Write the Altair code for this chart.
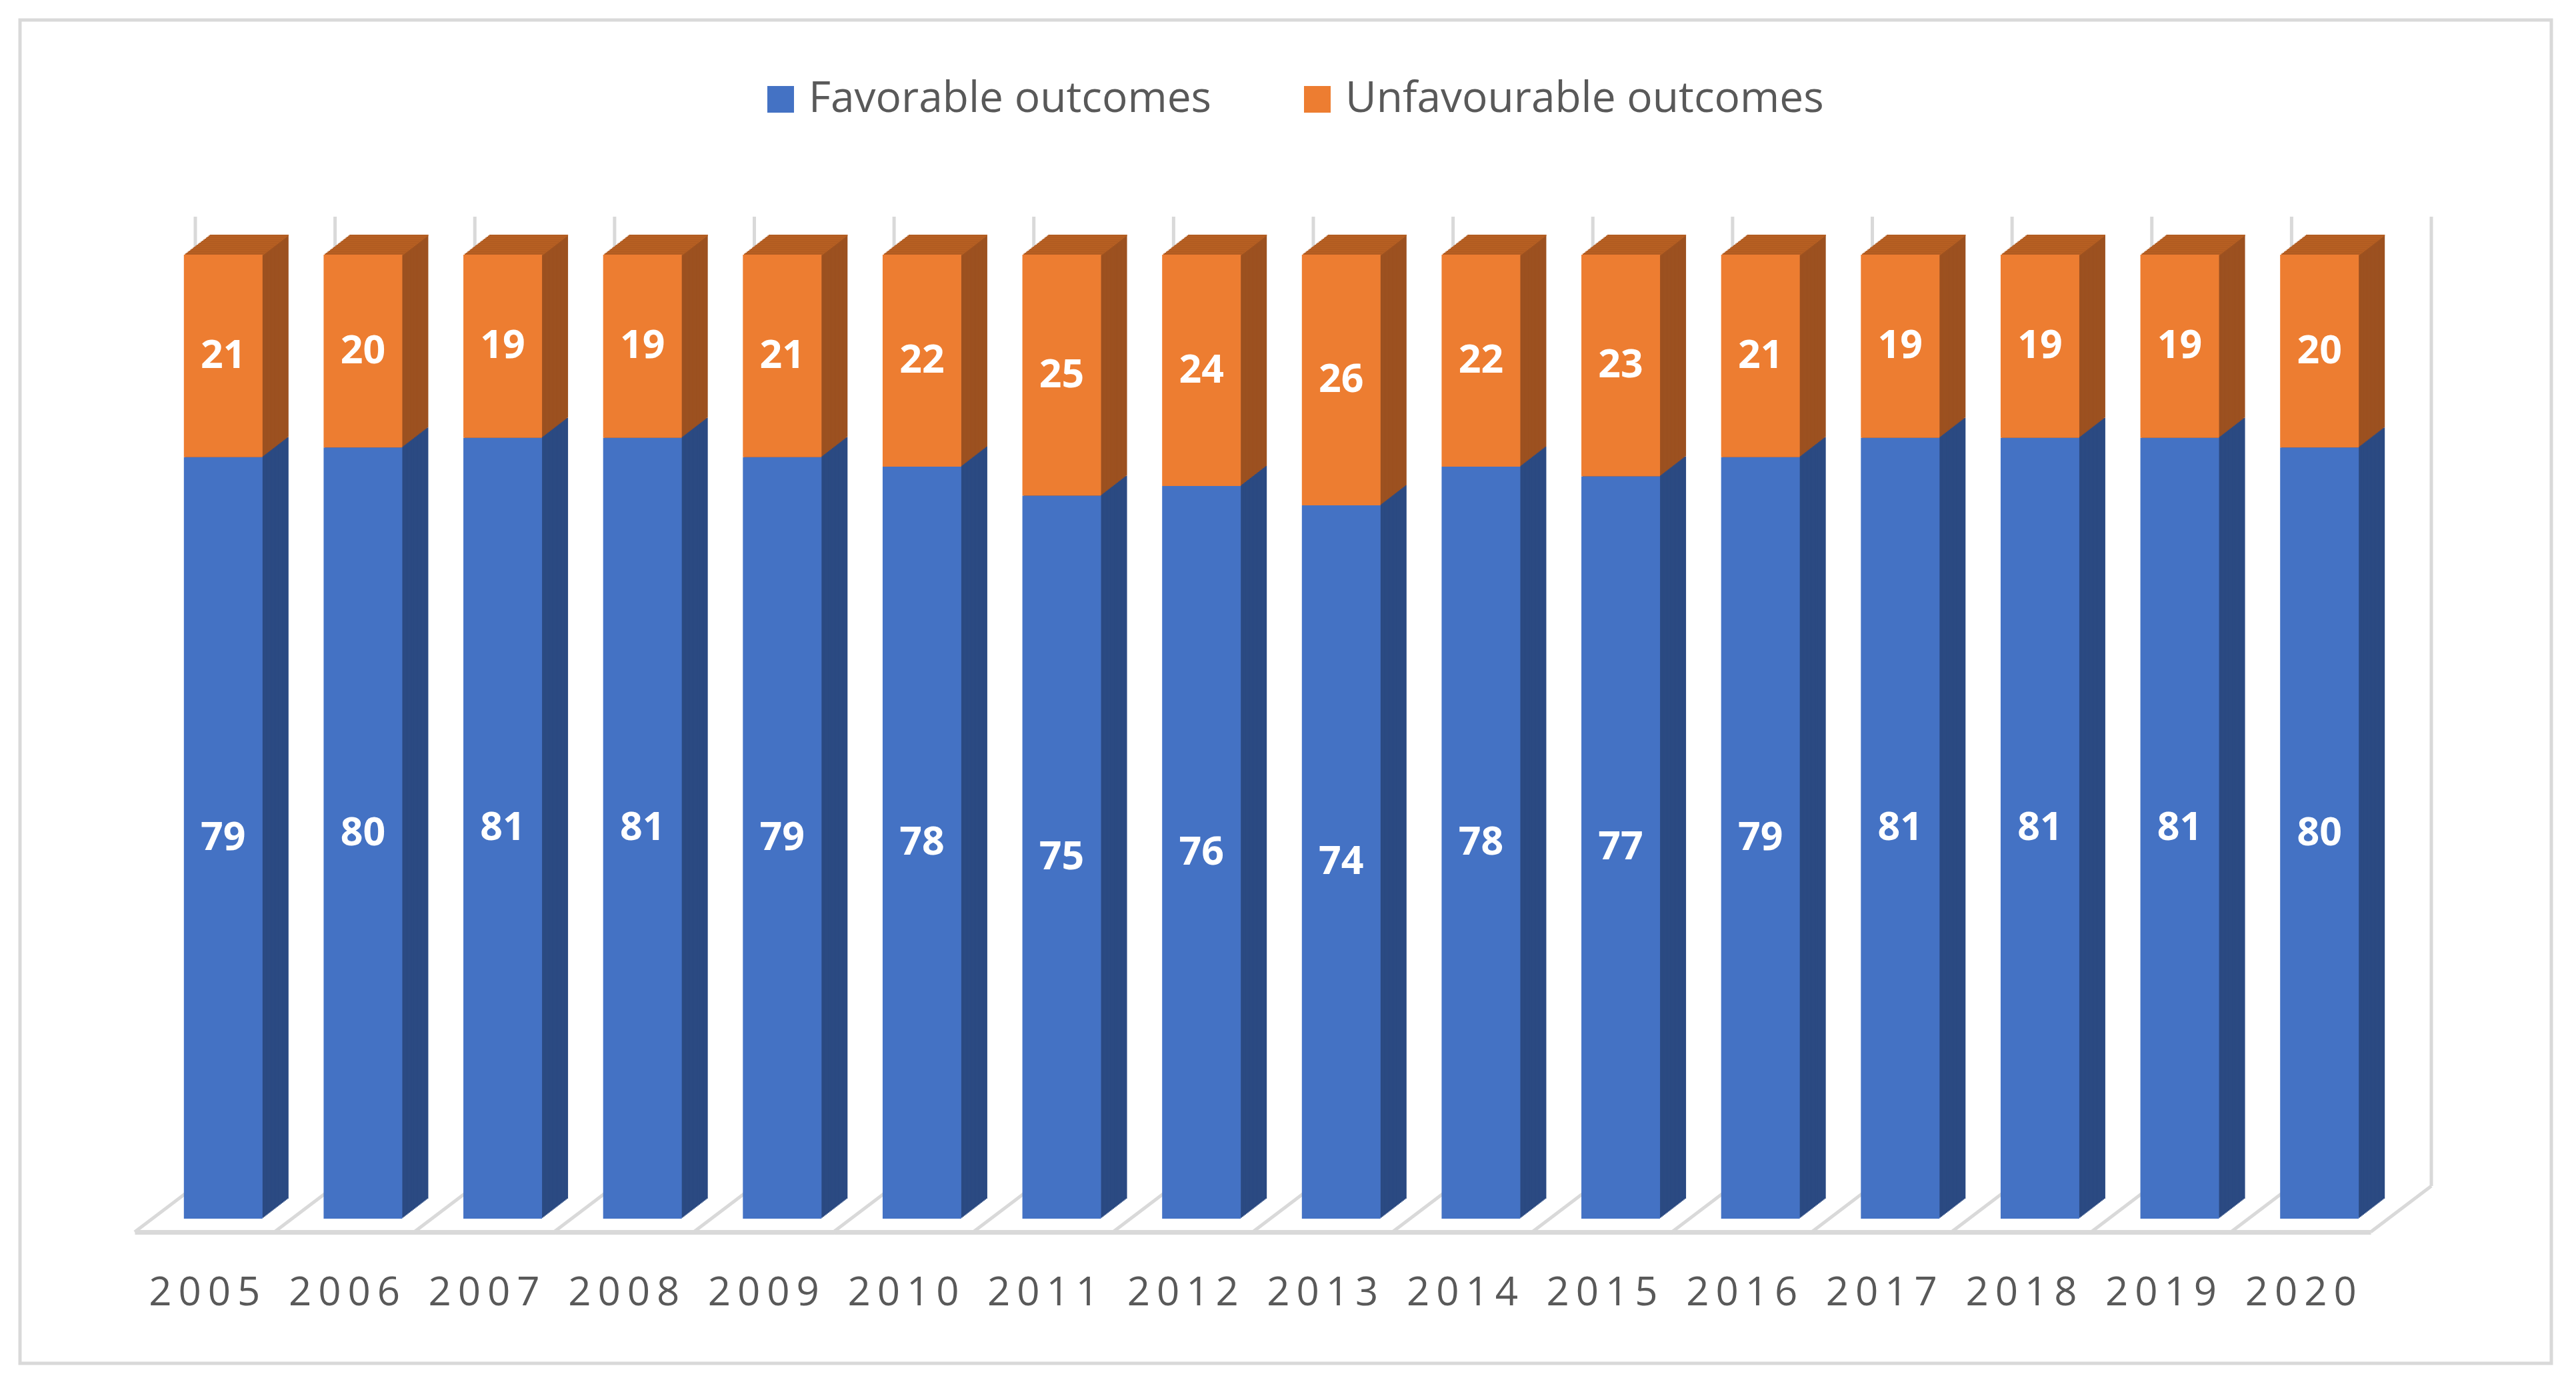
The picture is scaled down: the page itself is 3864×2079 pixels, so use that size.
import altair as alt
import pandas as pd

# ---- data ----
years = ["2005", "2006", "2007", "2008", "2009", "2010", "2011", "2012",
         "2013", "2014", "2015", "2016", "2017", "2018", "2019", "2020"]
favorable = [79, 80, 81, 81, 79, 78, 75, 76, 74, 78, 77, 79, 81, 81, 81, 80]
unfavourable = [21, 20, 19, 19, 21, 22, 25, 24, 26, 22, 23, 21, 19, 19, 19, 20]
series_names = ["Favorable outcomes", "Unfavourable outcomes"]

wide = pd.DataFrame({"year": years, "fav": favorable, "unf": unfavourable})
wide["total"] = wide["fav"] + wide["unf"]
wide["mid_f"] = wide["fav"] / 2
wide["mid_u"] = wide["fav"] + wide["unf"] / 2
end = wide.tail(1)

long = pd.DataFrame({
    "year": years + years,
    "series": [series_names[0]] * len(years) + [series_names[1]] * len(years),
    "value": favorable + unfavourable,
    "ord": [0] * len(years) + [1] * len(years),
})

# ---- style ----
FONT = "Open Sans"
BLUE, ORANGE = "#4472C4", "#ED7D31"
BLUE_SIDE, OR_SIDE, OR_TOP = "#2B4A82", "#9C5120", "#B65F22"
GRID = "#D9D9D9"
LABEL = "#595959"

W, H = 3354, 1446
BAR_W = 118
SHIFT = 28          # front face offset from band centre
DX, DY = 39, 30     # bar depth
FLOOR_DX, FLOOR_DY, FLOOR_FRONT = 91, 69, 20
N = 20              # extrusion layers

xscale = alt.Scale(domain=years, paddingInner=0, paddingOuter=0)
yscale = alt.Scale(domain=[0, 100], nice=False, zero=True)
xaxis = alt.Axis(title=None, ticks=False, tickSize=0, grid=False, domain=True,
                 domainColor=GRID, domainWidth=7, offset=FLOOR_FRONT,
                 labelFont=FONT, labelFontSize=60, labelColor=LABEL,
                 labelAngle=0, labelPadding=91, labelBaseline="middle",
                 labelExpr="join(split(datum.label, ''), '\u2009')")


def X(bp=None):
    if bp is None:
        return alt.X("year:N", scale=xscale, axis=xaxis)
    return alt.X("year:N", scale=xscale, axis=xaxis, bandPosition=bp)


def Yf(field):
    return alt.Y(field, type="quantitative", scale=yscale, axis=None)


def Yd(v):
    return alt.Y(datum=v, type="quantitative", scale=yscale, axis=None)


layers = []

# frame around the chart
frame = alt.Chart(pd.DataFrame({"a": [0]})).mark_rect(
    fillOpacity=0, stroke=GRID, strokeWidth=5
).encode(x=alt.value(-172), x2=alt.value(3625), y=alt.value(-352), y2=alt.value(1663))
layers.append(frame)

# floor diagonals and back wall verticals
for df, bp in [(wide, 0), (end, 1)]:
    layers.append(
        alt.Chart(df).mark_rule(color=GRID, strokeWidth=5, yOffset=FLOOR_FRONT,
                                x2Offset=FLOOR_DX, y2Offset=FLOOR_FRONT - FLOOR_DY)
        .encode(x=X(bp), x2=alt.X2("year:N", bandPosition=bp), y=Yd(0), y2=alt.Y2(datum=0))
    )
    layers.append(
        alt.Chart(df).mark_rule(color=GRID, strokeWidth=5, xOffset=FLOOR_DX,
                                yOffset=FLOOR_FRONT - FLOOR_DY, y2Offset=-57)
        .encode(x=X(bp), y=Yd(0), y2=alt.Y2(datum=100))
    )

# extrusion (side and top faces), back to front
for i in range(N, 0, -1):
    ox = SHIFT + DX * i / N
    oy = -DY * i / N
    layers.append(
        alt.Chart(wide).mark_bar(color=BLUE_SIDE, width=BAR_W, xOffset=ox,
                                 yOffset=oy, y2Offset=oy)
        .encode(x=X(), y=Yf("fav"), y2=alt.Y2(datum=0))
    )
    layers.append(
        alt.Chart(wide).mark_bar(color=OR_SIDE, width=BAR_W, xOffset=ox,
                                 yOffset=oy, y2Offset=oy)
        .encode(x=X(), y=Yf("total"), y2=alt.Y2("fav"))
    )
    layers.append(
        alt.Chart(wide).mark_bar(color=OR_TOP, width=BAR_W, xOffset=ox,
                                 yOffset=oy, y2Offset=oy + DY / N + 0.8)
        .encode(x=X(), y=Yf("total"), y2=alt.Y2("total"))
    )

# front faces
front = alt.Chart(long).mark_bar(width=BAR_W, xOffset=SHIFT).encode(
    x=X(),
    y=alt.Y("value:Q", stack="zero", scale=yscale, axis=None),
    color=alt.Color("series:N",
                    scale=alt.Scale(domain=series_names, range=[BLUE, ORANGE]),
                    legend=alt.Legend(orient="none", legendX=937, legendY=-265,
                                      direction="horizontal", title=None,
                                      symbolType="square", symbolSize=1600,
                                      symbolStrokeWidth=0, labelFont=FONT,
                                      labelFontSize=64, labelColor=LABEL,
                                      labelOffset=10, columnPadding=126,
                                      labelLimit=0)),
    order=alt.Order("ord:Q", sort="ascending"),
)
layers.append(front)

# value labels
text_style = dict(color="white", font=FONT, fontSize=59, fontWeight="bold",
                  xOffset=SHIFT, baseline="middle", align="center")
layers.append(alt.Chart(wide).mark_text(**text_style).encode(x=X(), y=Yf("mid_f"), text="fav:Q"))
layers.append(alt.Chart(wide).mark_text(**text_style).encode(x=X(), y=Yf("mid_u"), text="unf:Q"))

chart = alt.layer(*layers).properties(
    width=W, height=H,
    autosize=alt.AutoSizeParams(type="none"),
    padding={"left": 194, "top": 374, "right": 300, "bottom": 243},
    background="white",
).configure_view(stroke=None)

chart.save("out.html", embed_options={"renderer": "svg", "actions": False})
